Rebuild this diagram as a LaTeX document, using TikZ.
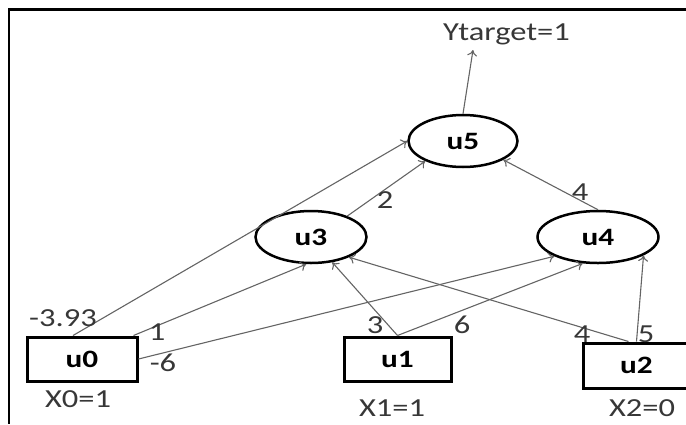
\documentclass[tikz,border=0pt]{standalone}
\usepackage{fontspec}
\setmainfont{Carlito}[FakeStretch=1.25]
\usetikzlibrary{shapes,arrows.meta,positioning}
\definecolor{wire}{RGB}{100,100,100}
\definecolor{lbl}{RGB}{55,55,55}

\begin{document}
\begin{tikzpicture}[x=1pt,y=-1pt,
      unit/.style={draw, ellipse, line width=2.5pt, minimum width=109pt, minimum height=52pt, font=\fontsize{25}{27}\selectfont\bfseries},
      input/.style={draw, rectangle, line width=3pt, minimum width=108pt, minimum height=44pt, font=\fontsize{25}{27}\selectfont\bfseries},
      clear/.style={draw=none, fill=none, inner sep=0pt, text=lbl, font=\fontsize{26}{28}\selectfont},
      every edge/.style={draw, wire, line width=1.1pt, -{To[length=6pt,width=10pt]}}
   ]
      \useasboundingbox (0,0) rectangle (686,424);
      \clip (0,0) rectangle (686,424);

      % frame
      \draw[line width=3pt] (8,9) -- (686,9);
      \draw[line width=1.3pt] (9,9) -- (9,424);

      % units
      \node[unit] (u5) at (463,141) {u5};
      \node[unit, minimum width=111pt] (u3) at (311,237) {u3};
      \node[unit, minimum width=121pt] (u4) at (598,237) {u4};
      \node[input, minimum width=110pt] (u0) at (82,359) {u0};
      \node[input, minimum width=107pt] (u1) at (397.5,359) {u1};
      \node[input, minimum width=107pt, minimum height=45pt] (u2) at (636.5,365.5) {u2};
      \coordinate (yout) at (473,50);

      \path ([xshift=-9pt]u0.north) edge (u5.west);
      \path ([xshift=-5pt]u0.north east) edge (u3.-100);
      \path (u0.east) edge (u4.south west);
      \path (u1.north) edge (u3.-50);
      \path (u1.north) edge (u4.-120);
      \path ([xshift=-8pt]u2.north) edge (u3.-28);
      \path (u2.north) edge (u4.-22);
      \path (u3.30) edge (u5.208);
      \path (u4.north) edge (u5.-25);
      \path (u5.north) edge (yout);

      % weights
      \node[clear, anchor=base] (w05) at (63,326) {-3.93};
      \node[clear, anchor=base] (w03) at (157,340) {1};
      \node[clear, anchor=base] (w04) at (163,371) {-6};
      \node[clear, anchor=base] (w13) at (375,333) {3};
      \node[clear, anchor=base] (w14) at (462,333) {6};
      \node[clear, anchor=base] (w23) at (582,342) {4};
      \node[clear, anchor=base] (w24) at (646,342) {5};
      \node[clear, anchor=base] (w35) at (385,208) {2};
      \node[clear, anchor=base] (w45) at (580,200) {4};

      % inputs and target
      \node[clear, anchor=base] (x0) at (78,407) {X0=1};
      \node[clear, anchor=base] (x1) at (392,416) {X1=1};
      \node[clear, anchor=base] (x2) at (642,416) {X2=0};
      \node[clear, anchor=base west] (yt) at (443,40) {Ytarget=1};
   \end{tikzpicture}
\end{document}
